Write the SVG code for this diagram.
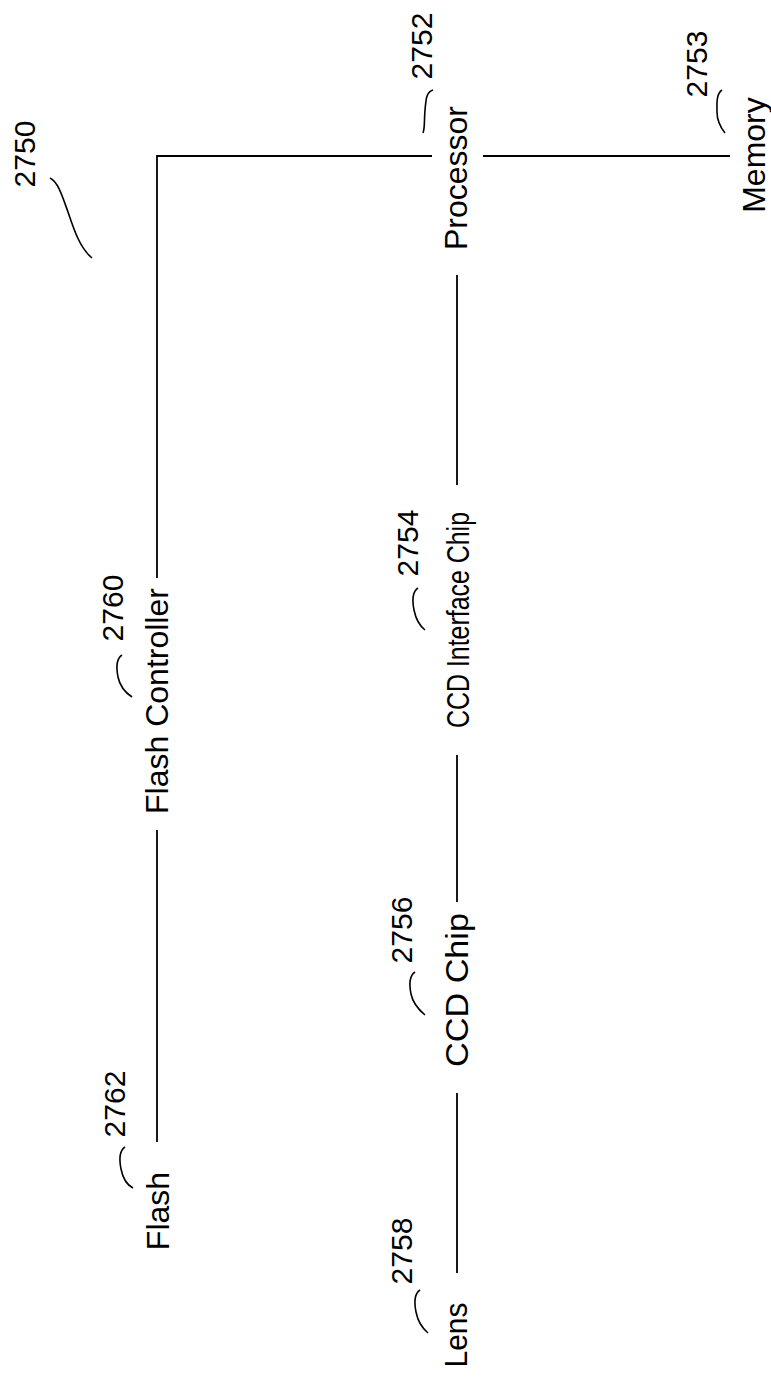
<svg xmlns="http://www.w3.org/2000/svg" width="771" height="1379" viewBox="0 0 771 1379">
<style>
.lbl{font-family:"Liberation Sans",Arial,sans-serif;font-size:32px;fill:#000;text-anchor:middle}
.num{font-family:"Liberation Sans",Arial,sans-serif;font-size:30px;fill:#000;text-anchor:middle}
.ln{fill:none;stroke:#000;stroke-width:1.8}
.ld{fill:none;stroke:#000;stroke-width:1.6}
</style>
<rect width="771" height="1379" fill="#fff"/>
<g id="connectors">
<path class="ln" d="M157,578 V156 H432"/>
<path class="ln" d="M483,156 H730"/>
<path class="ln" d="M457,275 V485"/>
<path class="ln" d="M457,755 V902"/>
<path class="ln" d="M457,1093 V1273"/>
<path class="ln" d="M157,830 V1142"/>
</g>
<g id="ref-2750">
<text class="num" transform="translate(35,154) rotate(-90)">2750</text>
<path class="ld" d="M50,178 C58,182 62,195 68,212 C74,230 80,248 92,258"/>
</g>
<g id="node-processor">
<text class="lbl" transform="translate(467,178) rotate(-90)">Processor</text>
<text class="num" transform="translate(432,46) rotate(-90)">2752</text>
<path class="ld" d="M433,90 C426,92 426,100 425,110 C424,122 425,128 423,133"/>
</g>
<g id="node-memory">
<text class="lbl" transform="translate(765,155) rotate(-90)">Memory</text>
<text class="num" transform="translate(707,64) rotate(-90)">2753</text>
<path class="ld" d="M722,90 C716,94 717,104 717,112 C717,122 721,128 725,133"/>
</g>
<g id="node-ccd-interface">
<text class="lbl" transform="translate(469,620) rotate(-90)" textLength="216" lengthAdjust="spacingAndGlyphs">CCD Interface Chip</text>
<text class="num" transform="translate(418,543) rotate(-90)">2754</text>
<path class="ld" d="M418,588 C412,592 412,600 414,610 C416,620 420,626 425,630"/>
</g>
<g id="node-ccd-chip">
<text class="lbl" transform="translate(468,990) rotate(-90)" textLength="154" lengthAdjust="spacingAndGlyphs">CCD Chip</text>
<text class="num" transform="translate(412,930) rotate(-90)">2756</text>
<path class="ld" d="M415,972 C409,976 409,984 411,994 C413,1004 419,1010 425,1015"/>
</g>
<g id="node-lens">
<text class="lbl" transform="translate(467,1335) rotate(-90)" textLength="65" lengthAdjust="spacingAndGlyphs">Lens</text>
<text class="num" transform="translate(412,1251) rotate(-90)">2758</text>
<path class="ld" d="M420,1290 C414,1294 414,1302 416,1312 C418,1322 422,1328 428,1333"/>
</g>
<g id="node-flash-controller">
<text class="lbl" transform="translate(168,701) rotate(-90)">Flash Controller</text>
<text class="num" transform="translate(123,608) rotate(-90)">2760</text>
<path class="ld" d="M122,655 C116,659 116,667 118,677 C120,687 126,693 132,697"/>
</g>
<g id="node-flash">
<text class="lbl" transform="translate(169,1211) rotate(-90)">Flash</text>
<text class="num" transform="translate(125,1104) rotate(-90)">2762</text>
<path class="ld" d="M125,1147 C119,1151 119,1159 121,1169 C123,1179 127,1185 133,1188"/>
</g>
</svg>
